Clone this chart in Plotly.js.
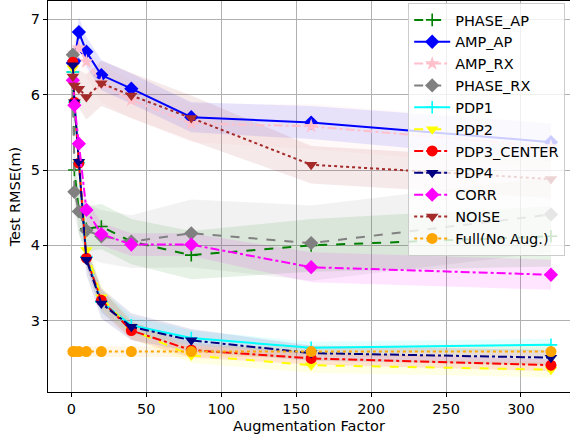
<!DOCTYPE html>
<html>
<head>
<meta charset="utf-8">
<script src="https://cdn.plot.ly/plotly-3.0.1.min.js"></script>
<style>html,body{margin:0;padding:0;background:#fff;}#chart{width:570px;height:440px;}</style>
</head>
<body>
<div id="chart"></div>
<script>
// Augmentation factors (x)
const factors = [1, 2, 5, 10, 20, 40, 80, 160, 320];

// Series means (Test RMSE, m)
const phaseAP   = [6.30, 5.00, 4.45, 4.22, 4.25, 4.05, 3.87, 4.00, 4.12];
const ampAP     = [6.42, 6.45, 6.83, 6.57, 6.26, 6.08, 5.70, 5.63, 5.37];
const ampRX     = [6.50, 6.55, 6.62, 6.44, 6.15, 5.93, 5.62, 5.58, 5.31];
const phaseRX   = [6.53, 4.71, 4.45, 4.20, 4.12, 4.05, 4.16, 4.03, 4.41];
const pdp1      = [6.30, 5.90, 5.10, 3.85, 3.25, 2.94, 2.77, 2.64, 2.68];
const pdp2      = [6.35, 5.90, 5.10, 3.94, 3.31, 2.88, 2.54, 2.41, 2.35];
const pdp3      = [6.43, 5.90, 5.09, 3.83, 3.27, 2.87, 2.61, 2.50, 2.41];
const pdp4      = [6.39, 5.90, 5.11, 3.81, 3.23, 2.92, 2.74, 2.57, 2.51];
const corr      = [6.19, 5.86, 5.35, 4.47, 4.15, 4.01, 4.01, 3.71, 3.61];
const noise     = [6.24, 6.12, 6.08, 5.97, 6.15, 5.99, 5.69, 5.07, 4.88];
const fullNoAug = [2.59, 2.59, 2.59, 2.59, 2.59, 2.59, 2.59, 2.59, 2.59];

// Spread (std) for shaded bands
const phaseAPStd = [0.30, 0.30, 0.30, 0.30, 0.30, 0.30, 0.32, 0.35, 0.40];
const ampAPStd   = [0.15, 0.15, 0.20, 0.20, 0.20, 0.20, 0.20, 0.22, 0.25];
const ampRXStd   = [0.20, 0.20, 0.20, 0.20, 0.25, 0.25, 0.25, 0.30, 0.30];
const phaseRXStd = [0.30, 0.30, 0.30, 0.35, 0.35, 0.35, 0.45, 0.50, 0.50];
const pdp1Std    = [0.10, 0.10, 0.10, 0.12, 0.15, 0.12, 0.10, 0.08, 0.08];
const pdp2Std    = [0.10, 0.10, 0.10, 0.12, 0.15, 0.12, 0.10, 0.10, 0.10];
const pdp3Std    = [0.10, 0.10, 0.10, 0.12, 0.15, 0.12, 0.10, 0.08, 0.08];
const pdp4Std    = [0.15, 0.15, 0.20, 0.20, 0.20, 0.18, 0.15, 0.10, 0.10];
const corrStd    = [0.15, 0.15, 0.15, 0.15, 0.15, 0.15, 0.15, 0.20, 0.20];
const noiseStd   = [0.20, 0.20, 0.25, 0.30, 0.30, 0.30, 0.30, 0.25, 0.25];
const fullStd    = [0.07, 0.07, 0.07, 0.07, 0.07, 0.07, 0.07, 0.07, 0.07];

const seriesNames = ['PHASE_AP','AMP_AP','AMP_RX','PHASE_RX','PDP1','PDP2','PDP3_CENTER','PDP4','CORR','NOISE','Full(No Aug.)'];

const series = [
  {name: seriesNames[0], y: phaseAP, s: phaseAPStd, color: '#008000', rgb: '0,128,0', dash: 'dash', symbol: 'cross-thin', size: 9, lw: 2},
  {name: seriesNames[1], y: ampAP, s: ampAPStd, color: '#0000ff', rgb: '0,0,255', dash: 'solid', symbol: 'diamond', size: 11, lw: 2},
  {name: seriesNames[2], y: ampRX, s: ampRXStd, color: '#ffc0cb', rgb: '255,192,203', dash: 'dashdot', symbol: 'star', size: 11, lw: 2},
  {name: seriesNames[3], y: phaseRX, s: phaseRXStd, color: '#808080', rgb: '128,128,128', dash: 'dash', symbol: 'diamond', size: 11, lw: 2},
  {name: seriesNames[4], y: pdp1, s: pdp1Std, color: '#00ffff', rgb: '0,255,255', dash: 'solid', symbol: 'cross-thin', size: 9, lw: 2},
  {name: seriesNames[5], y: pdp2, s: pdp2Std, color: '#ffff00', rgb: '255,255,0', dash: 'dash', symbol: 'triangle-down', size: 11, lw: 2},
  {name: seriesNames[6], y: pdp3, s: pdp3Std, color: '#ff0000', rgb: '255,0,0', dash: 'dashdot', symbol: 'circle', size: 11, lw: 2},
  {name: seriesNames[7], y: pdp4, s: pdp4Std, color: '#000080', rgb: '0,0,128', dash: 'dashdot', symbol: 'triangle-down', size: 11, lw: 2},
  {name: seriesNames[8], y: corr, s: corrStd, color: '#ff00ff', rgb: '255,0,255', dash: 'dashdot', symbol: 'diamond', size: 11, lw: 2},
  {name: seriesNames[9], y: noise, s: noiseStd, color: '#a52a2a', rgb: '165,42,42', dash: 'dot', symbol: 'triangle-down', size: 11, lw: 2},
  {name: seriesNames[10], y: fullNoAug, s: fullStd, color: '#ffa500', rgb: '255,165,0', dash: 'dot', symbol: 'circle', size: 11, lw: 2}
];

const traces = [];
// shaded bands
series.forEach(sr => {
  const upper = sr.y.map((v, i) => v + sr.s[i]);
  const lower = sr.y.map((v, i) => v - sr.s[i]);
  traces.push({
    x: factors.concat(factors.slice().reverse()),
    y: upper.concat(lower.slice().reverse()),
    type: 'scatter', mode: 'lines', fill: 'toself',
    fillcolor: 'rgba(' + sr.rgb + ',0.1)',
    line: {width: 0, color: 'rgba(0,0,0,0)'},
    hoverinfo: 'skip', showlegend: false
  });
});
// lines
series.forEach((sr, k) => {
  const isCross = sr.symbol === 'cross-thin';
  traces.push({
    x: factors, y: sr.y, name: sr.name, type: 'scatter', mode: 'lines+markers',
    legendgroup: 'g' + k,
    line: {color: sr.color, width: sr.lw, dash: sr.dash},
    marker: {symbol: sr.symbol, size: sr.size, color: sr.color,
             line: {color: sr.color, width: isCross ? 1.6 : 0}}
  });
});

const axisFont = {family: 'DejaVu Sans', size: 14.5, color: '#000'};
const layout = {
  width: 570, height: 440,
  margin: {l: 48, r: 0, t: 1, b: 48},
  paper_bgcolor: '#fff', plot_bgcolor: '#fff',
  font: axisFont,
  xaxis: {
    range: [-15.6, 332.7], tickvals: [0, 50, 100, 150, 200, 250, 300],
    ticks: 'outside', ticklen: 4, tickcolor: '#000', tickwidth: 1,
    showline: true, linecolor: '#000', linewidth: 1, mirror: true,
    showgrid: true, gridcolor: '#b0b0b0', gridwidth: 1, zeroline: false,
    tickfont: axisFont,
    title: {text: 'Augmentation Factor', font: axisFont, standoff: 4}
  },
  yaxis: {
    range: [2.054, 7.243], tickvals: [3, 4, 5, 6, 7],
    ticks: 'outside', ticklen: 4, tickcolor: '#000', tickwidth: 1,
    showline: true, linecolor: '#000', linewidth: 1, mirror: true,
    showgrid: true, gridcolor: '#b0b0b0', gridwidth: 1, zeroline: false,
    tickfont: axisFont,
    title: {text: 'Test RMSE(m)', font: axisFont, standoff: 6}
  },
  legend: {
    x: 0.69, y: 0.995, xanchor: 'left', yanchor: 'top',
    bgcolor: 'rgba(255,255,255,0.8)', bordercolor: '#cccccc', borderwidth: 1,
    font: axisFont, traceorder: 'grouped', tracegroupgap: 0, itemwidth: 36
  },
  showlegend: true
};

Plotly.newPlot('chart', traces, layout, {displayModeBar: false, staticPlot: true});
</script>
</body>
</html>
